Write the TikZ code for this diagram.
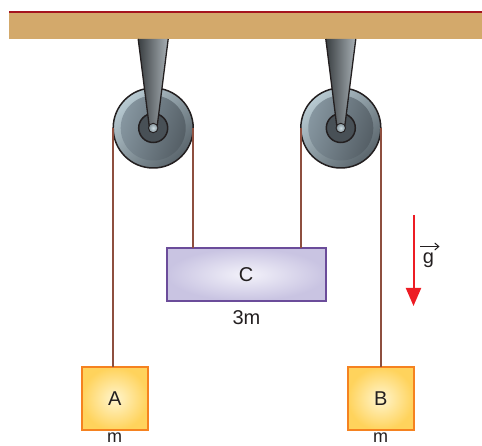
\documentclass[tikz,border=0pt]{standalone}
\usepackage{fontspec}
\setmainfont{Liberation Sans}
\usetikzlibrary{arrows.meta,calc}
\definecolor{beam}{HTML}{D3A96B}
\definecolor{beamtop}{HTML}{A5141E}
\definecolor{ropecol}{HTML}{8E4F3F}
\definecolor{ink}{HTML}{231F20}
\definecolor{gravred}{HTML}{ED1C24}
\definecolor{ringlight}{HTML}{B8CAD2}
\definecolor{ringdark}{HTML}{5A656C}
\definecolor{disclight}{HTML}{8696A0}
\definecolor{discdark}{HTML}{555F66}
\tikzset{
  x=1pt,y=-1pt,
  ropeline/.style={draw=ropecol,line width=2.2pt},
  label/.style={font=\fontsize{20}{20}\selectfont,text=ink,inner sep=0pt},
  masslabel/.style={font=\fontsize{18}{18}\selectfont,text=ink,inner sep=0pt,anchor=base},
  yellowbox/.style={draw={rgb,255:red,245;green,130;blue,32},line width=1.8pt,inner color={rgb,255:red,255;green,245;blue,205},outer color={rgb,255:red,255;green,211;blue,92},minimum width=66pt,minimum height=62.7pt,outer sep=0pt,label},
  purplebox/.style={draw={rgb,255:red,107;green,76;blue,154},line width=1.8pt,inner color={rgb,255:red,243;green,242;blue,250},outer color={rgb,255:red,201;green,196;blue,226},minimum width=159pt,minimum height=52.4pt,outer sep=0pt,label},
  wheel/.style={circle,draw=ink,line width=1.5pt,outer sep=0pt,minimum size=80pt,inner sep=0pt,top color=ringlight,bottom color=ringdark,shading angle=45},
  innerwheel/.style={circle,minimum size=65pt,inner sep=0pt,top color=disclight,bottom color=discdark,shading angle=70},
  hub/.style={circle,draw=ink,line width=1.5pt,fill={rgb,255:red,72;green,80;blue,86},minimum size=29pt,inner sep=0pt},
  axle/.style={circle,draw=ink,line width=.9pt,inner color={rgb,255:red,205;green,220;blue,226},outer color={rgb,255:red,130;green,145;blue,152},minimum size=9.5pt,inner sep=0pt},
  hanger/.style={draw=ink,line width=1.3pt,left color={rgb,255:red,58;green,63;blue,66},right color={rgb,255:red,168;green,176;blue,181}},
}
\begin{document}
\begin{tikzpicture}
\useasboundingbox (0,0) rectangle (482,446);
% ceiling
\fill[beam] (9,12) rectangle (482,39);
\draw[beamtop,line width=1.4pt] (9,12) -- (482,12);
% pulleys
\foreach \nm/\cx in {p/153.2,q/340.8}{
  \node[wheel] (\nm) at (\cx,128) {};
  \node[innerwheel] (\nm i) at (\cx,128) {};
  \node[hub] (\nm h) at (\cx,128) {};
  \path[hanger] ({\cx-15},39) -- ({\cx-4},126) -- ({\cx+4},126) -- ({\cx+15},39);
  \node[axle] (\nm a) at (\cx,128) {};
}
% loads
\node[yellowbox] (A) at (114.7,398.7) {A};
\node[yellowbox] (B) at (380.7,398.7) {B};
\node[purplebox] (C) at (246.2,274.5) {C};
% ropes
\draw[ropeline] (p.west) -- (p.west |- A.north);
\draw[ropeline] (p.east) -- (p.east |- C.north);
\draw[ropeline] (q.west) -- (q.west |- C.north);
\draw[ropeline] (q.east) -- (q.east |- B.north);
% mass labels
\node[masslabel] (ma) at (114.5,442) {m};
\node[masslabel] (mb) at (380.5,442) {m};
\node[label] (mc) at (246.5,318) {3m};
% gravity
\coordinate (g1) at (413.5,215);
\coordinate (g2) at (413.5,306);
\draw[draw=gravred,line width=2pt,-{Triangle[length=18pt,width=15pt,fill=gravred]}] (g1) -- (g2);
\node[label] (g) at (428.5,260) {g};
\coordinate (v1) at (420,246.5);
\coordinate (v2) at (439.5,246.5);
\draw[ink,line width=1pt,-{Straight Barb[length=4pt,width=7pt]}] (v1) -- (v2);
\end{tikzpicture}
\end{document}
